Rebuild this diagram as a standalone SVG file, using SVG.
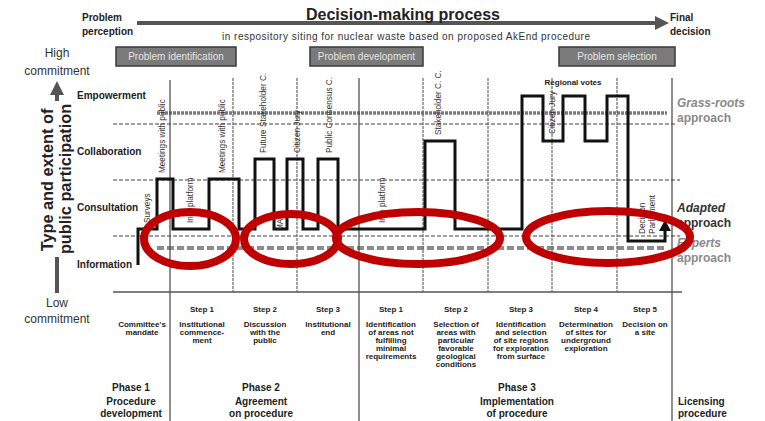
<svg xmlns="http://www.w3.org/2000/svg" width="765" height="421" viewBox="0 0 765 421">
<defs>
<style>
text{font-family:"Liberation Sans",Arial,sans-serif}
.b{font-weight:bold}
.hdr{font-size:10px;font-weight:bold;fill:#222}
.lvl{font-size:10px;font-weight:bold;fill:#222}
.vt{font-size:8.2px;fill:#333}
.st{font-size:8px;font-weight:bold;fill:#222;text-anchor:middle}
.ph{font-size:10px;font-weight:bold;fill:#222;text-anchor:middle}
.cm{font-size:12px;fill:#333;text-anchor:middle}
.box rect{fill:#7a7a7a;stroke:#3a3a3a;stroke-width:1.5}
.box text{font-size:10px;fill:#e4e4e4;text-anchor:middle}
.gl{stroke:#808080;stroke-width:1.5;stroke-dasharray:4 2;fill:none}
.vs{stroke:#444;stroke-width:1.2}
.vd{stroke:#666;stroke-width:1.2;stroke-dasharray:3 1}
.ell{fill:none;stroke:#c00000;stroke-width:8}
.ap{font-size:12px;font-weight:bold}
</style>
</defs>

<g id="header">
<text x="82" y="21" class="hdr">Problem</text>
<text x="82" y="35" class="hdr">perception</text>
<line x1="137" y1="23" x2="657" y2="23" stroke="#555" stroke-width="4"/>
<polygon points="655,16 669,23 655,30" fill="#555"/>
<text x="403" y="20" class="b" font-size="16" text-anchor="middle" fill="#222" textLength="194">Decision-making process</text>
<text x="406" y="40" font-size="10" text-anchor="middle" fill="#333" textLength="368">in respository siting for nuclear waste based on proposed AkEnd procedure</text>
<text x="670" y="21" class="hdr">Final</text>
<text x="670" y="35" class="hdr">decision</text>
</g>

<g id="commitment">
<text x="57" y="57" class="cm">High</text>
<text x="57" y="75" class="cm">commitment</text>
<text x="57" y="307" class="cm">Low</text>
<text x="57" y="323" class="cm">commitment</text>
<line x1="57" y1="92" x2="57" y2="101" stroke="#555" stroke-width="4"/>
<polygon points="50,95 57,81 64,95" fill="#555"/>
<line x1="57" y1="257" x2="57" y2="293" stroke="#555" stroke-width="4"/>
<text transform="translate(53,180) rotate(-90)" class="b" font-size="16.3" text-anchor="middle" fill="#222">Type and extent of</text>
<text transform="translate(71,179) rotate(-90)" class="b" font-size="16.3" text-anchor="middle" fill="#222">public participation</text>
</g>

<g id="phase-boxes">
<g id="box-identification" class="box"><rect x="116" y="47" width="120" height="19"/><text x="176" y="60">Problem identification</text></g>
<g id="box-development" class="box"><rect x="310" y="47" width="113" height="19"/><text x="366.5" y="60">Problem development</text></g>
<g id="box-selection" class="box"><rect x="559" y="47" width="116" height="19"/><text x="617" y="60">Problem selection</text></g>
</g>

<g id="levels">
<text x="77" y="99" class="lvl">Empowerment</text>
<text x="77" y="155" class="lvl">Collaboration</text>
<text x="77" y="211" class="lvl">Consultation</text>
<text x="77" y="268" class="lvl">Information</text>
</g>

<g id="grid">
<line x1="157" y1="113" x2="667" y2="113" stroke="#7a7a7a" stroke-width="3.5" stroke-dasharray="3 1"/>
<line x1="113" y1="124" x2="677" y2="124" class="gl"/>
<line x1="113" y1="180" x2="680" y2="180" class="gl"/>
<line x1="113" y1="236" x2="680" y2="236" class="gl"/>
<line x1="157" y1="248" x2="667" y2="248" stroke="#8c8c8c" stroke-width="4" stroke-dasharray="7 3"/>
<line x1="170" y1="80" x2="170" y2="421" class="vs"/>
<line x1="359" y1="78" x2="359" y2="421" class="vs"/>
<line x1="672" y1="78" x2="672" y2="421" class="vs"/>
<line x1="233" y1="78" x2="233" y2="292" class="vd"/>
<line x1="297" y1="78" x2="297" y2="292" class="vd"/>
<line x1="423" y1="78" x2="423" y2="292" class="vd"/>
<line x1="488" y1="78" x2="488" y2="292" class="vd"/>
<line x1="552" y1="78" x2="552" y2="292" class="vd"/>
<line x1="617" y1="78" x2="617" y2="292" class="vd"/>
<line x1="113" y1="292" x2="682" y2="292" stroke="#555" stroke-width="1.5"/>
</g>

<g id="approaches">
<text x="677" y="107" class="ap" fill="#8a8a8a" font-style="italic">Grass-roots</text>
<text x="677" y="122" class="ap" fill="#8a8a8a">approach</text>
<text x="677" y="212" class="ap" fill="#333" font-style="italic">Adapted</text>
<text x="677" y="227" class="ap" fill="#333">approach</text>
<text x="677" y="247" class="ap" fill="#8a8a8a" font-style="italic">Experts</text>
<text x="677" y="262" class="ap" fill="#8a8a8a">approach</text>
</g>

<g id="connectors">
<path d="M138,265 V229 H157 V179 H173 V229 H209 V179 H239 V229 H255 V159 H274 V229 H287 V159 H303 V229 H318 V159 H338 V229 H425 V141 H455 V229 H522 V96 H543 V141 H563 V96 H585 V141 H607 V96 H628 V241 H665 V229" fill="none" stroke="#111" stroke-width="3" stroke-linejoin="miter"/>
<polygon points="659,231 665,220 671,231" fill="#111"/>
</g>

<g id="activities">
<text transform="translate(150,223) rotate(-90)" class="vt">Surveys</text>
<text transform="translate(165,173) rotate(-90)" class="vt">Meetings with public</text>
<text transform="translate(193,223) rotate(-90)" class="vt">Info platform</text>
<text transform="translate(225,173) rotate(-90)" class="vt">Meetings with public</text>
<text transform="translate(266,153) rotate(-90)" class="vt">Future Stakeholder C.</text>
<text transform="translate(283,231) rotate(-90)" class="vt">MA</text>
<text transform="translate(300,153) rotate(-90)" class="vt">Citizen Jury</text>
<text transform="translate(332,153) rotate(-90)" class="vt">Public Consensus C.</text>
<text transform="translate(385,223) rotate(-90)" class="vt">Info platform</text>
<text transform="translate(441,135) rotate(-90)" class="vt">Stakeholder C. C.</text>
<text x="573" y="85" class="st">Regional votes</text>
<text transform="translate(555,134) rotate(-90)" class="vt">Citizen Jury</text>
<text transform="translate(645,234) rotate(-90)" class="vt">Decision</text>
<text transform="translate(655,234) rotate(-90)" class="vt">Parliament</text>
</g>

<g id="steps">
<text x="142" class="st"><tspan x="142" y="327">Committee's</tspan><tspan x="142" y="335">mandate</tspan></text>
<text x="202" y="312" class="st">Step 1</text>
<text class="st"><tspan x="202" y="327">Institutional</tspan><tspan x="202" y="335">commence-</tspan><tspan x="202" y="343">ment</tspan></text>
<text x="265" y="312" class="st">Step 2</text>
<text class="st"><tspan x="265" y="327">Discussion</tspan><tspan x="265" y="335">with the</tspan><tspan x="265" y="343">public</tspan></text>
<text x="328" y="312" class="st">Step 3</text>
<text class="st"><tspan x="328" y="327">Institutional</tspan><tspan x="328" y="335">end</tspan></text>
<text x="391" y="312" class="st">Step 1</text>
<text class="st"><tspan x="391" y="327">Identification</tspan><tspan x="391" y="335">of areas not</tspan><tspan x="391" y="343">fulfilling</tspan><tspan x="391" y="351">minimal</tspan><tspan x="391" y="359">requirements</tspan></text>
<text x="456" y="312" class="st">Step 2</text>
<text class="st"><tspan x="456" y="327">Selection of</tspan><tspan x="456" y="335">areas with</tspan><tspan x="456" y="343">particular</tspan><tspan x="456" y="351">favorable</tspan><tspan x="456" y="359">geological</tspan><tspan x="456" y="367">conditions</tspan></text>
<text x="521" y="312" class="st">Step 3</text>
<text class="st"><tspan x="521" y="327">Identification</tspan><tspan x="521" y="335">and selection</tspan><tspan x="521" y="343">of site regions</tspan><tspan x="521" y="351">for exploration</tspan><tspan x="521" y="359">from surface</tspan></text>
<text x="586" y="312" class="st">Step 4</text>
<text class="st"><tspan x="586" y="327">Determination</tspan><tspan x="586" y="335">of sites for</tspan><tspan x="586" y="343">underground</tspan><tspan x="586" y="351">exploration</tspan></text>
<text x="645" y="312" class="st">Step 5</text>
<text class="st"><tspan x="645" y="327">Decision on</tspan><tspan x="645" y="335">a site</tspan></text>
</g>

<g id="phases">
<text class="ph"><tspan x="131" y="391">Phase 1</tspan><tspan x="131" y="405">Procedure</tspan><tspan x="131" y="417">development</tspan></text>
<text class="ph"><tspan x="261" y="391">Phase 2</tspan><tspan x="261" y="405">Agreement</tspan><tspan x="261" y="417">on procedure</tspan></text>
<text class="ph"><tspan x="517" y="391">Phase 3</tspan><tspan x="517" y="405">Implementation</tspan><tspan x="517" y="417">of procedure</tspan></text>
<text x="678" y="405" class="ph" style="text-anchor:start">Licensing</text>
<text x="678" y="417" class="ph" style="text-anchor:start">procedure</text>
</g>

<g id="highlights">
<ellipse cx="190" cy="239" rx="46" ry="27" class="ell"/>
<ellipse cx="291" cy="239" rx="47" ry="25" class="ell"/>
<ellipse cx="418" cy="238" rx="82" ry="26" class="ell"/>
<ellipse cx="608" cy="237" rx="82" ry="26" class="ell"/>
</g>
</svg>
